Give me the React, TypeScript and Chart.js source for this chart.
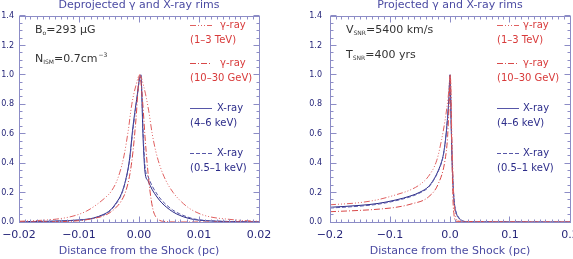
import React, { useEffect, useRef } from "react";
import { Chart, registerables } from "chart.js";
Chart.register(...registerables);

// ---------- data ----------
// Deprojected panel
const depX_xray = [-0.02, -0.015, -0.012, -0.01, -0.0085, -0.0076, -0.006, -0.0048, -0.0038, -0.0029, -0.0022, -0.0016, -0.001, -0.0004, 0.0003, 0.0007, 0.001, 0.0015, 0.0022, 0.003, 0.0038, 0.0046, 0.0056, 0.0068, 0.008, 0.0093, 0.011, 0.014, 0.02];
const depY_hard = [0.002, 0.005, 0.009, 0.014, 0.02, 0.027, 0.05, 0.08, 0.13, 0.195, 0.29, 0.42, 0.65, 0.83, 1.0, 0.55, 0.34, 0.28, 0.22, 0.17, 0.13, 0.1, 0.07, 0.045, 0.028, 0.016, 0.009, 0.004, 0.001];
const depY_soft = [0.002, 0.004, 0.008, 0.012, 0.018, 0.024, 0.046, 0.076, 0.124, 0.188, 0.285, 0.41, 0.63, 0.82, 1.0, 0.6, 0.38, 0.31, 0.245, 0.19, 0.147, 0.115, 0.082, 0.055, 0.035, 0.02, 0.011, 0.005, 0.001];
const depX_tev = [-0.02, -0.0165, -0.0137, -0.011, -0.0087, -0.007, -0.0055, -0.0046, -0.0035, -0.0025, -0.0018, -0.0012, -0.0005, 0.0001, 0.0008, 0.0016, 0.0022, 0.0028, 0.0035, 0.0045, 0.0057, 0.007, 0.0085, 0.0105, 0.0125, 0.0146, 0.017, 0.02];
const depY_tev = [0.005, 0.011, 0.02, 0.04, 0.075, 0.12, 0.17, 0.21, 0.3, 0.45, 0.62, 0.8, 0.93, 1.0, 0.92, 0.76, 0.6, 0.48, 0.38, 0.28, 0.2, 0.14, 0.09, 0.05, 0.03, 0.02, 0.011, 0.005];
const depX_gev = [-0.02, -0.012, -0.0093, -0.0075, -0.006, -0.0048, -0.0038, -0.003, -0.0022, -0.0015, -0.001, -0.0005, 0.0001, 0.0006, 0.001, 0.0014, 0.0018, 0.0023, 0.0028, 0.0035, 0.0045, 0.006, 0.02];
const depY_gev = [0.0, 0.004, 0.012, 0.025, 0.04, 0.065, 0.1, 0.14, 0.21, 0.33, 0.48, 0.7, 1.0, 0.82, 0.58, 0.38, 0.22, 0.09, 0.035, 0.01, 0.003, 0.0, 0.0];

// Projected panel
const proX_xray = [-0.2, -0.15, -0.12, -0.09, -0.065, -0.05, -0.036, -0.027, -0.0195, -0.014, -0.011, -0.0072, -0.0045, -0.002, 0.0, 0.002, 0.004, 0.0055, 0.0072, 0.01, 0.014, 0.021, 0.03, 0.2];
const proY_hard = [0.1, 0.113, 0.126, 0.15, 0.178, 0.203, 0.24, 0.29, 0.35, 0.41, 0.46, 0.57, 0.69, 0.83, 1.0, 0.65, 0.35, 0.22, 0.125, 0.065, 0.03, 0.006, 0.001, 0.0];
const proY_soft = [0.095, 0.108, 0.121, 0.145, 0.173, 0.198, 0.235, 0.285, 0.345, 0.405, 0.455, 0.565, 0.685, 0.82, 1.0, 0.67, 0.37, 0.235, 0.135, 0.07, 0.034, 0.008, 0.002, 0.0];
const proX_tev = [-0.2, -0.15, -0.12, -0.09, -0.065, -0.05, -0.036, -0.022, -0.014, -0.0083, -0.003, 0.0005, 0.003, 0.006, 0.009, 0.013, 0.02, 0.2];
const proY_tev = [0.117, 0.132, 0.152, 0.185, 0.22, 0.255, 0.31, 0.42, 0.56, 0.69, 0.85, 1.0, 0.6, 0.2, 0.05, 0.01, 0.0, 0.0];
const proX_gev = [-0.2, -0.15, -0.12, -0.09, -0.065, -0.036, -0.0195, -0.0083, -0.004, -0.0015, 0.0005, 0.003, 0.005, 0.007, 0.01, 0.2];
const proY_gev = [0.07, 0.079, 0.087, 0.1, 0.122, 0.17, 0.26, 0.42, 0.58, 0.8, 1.0, 0.5, 0.15, 0.04, 0.005, 0.0];

// ticks
const yTickValues = [0, 0.2, 0.4, 0.6, 0.8, 1.0, 1.2, 1.4];
const yTickLabels = ["0.0", "0.2", "0.4", "0.6", "0.8", "1.0", "1.2", "1.4"];
const depXTickValues = [-0.02, -0.01, 0, 0.01, 0.02];
const depXTickLabels = ["\u22120.02", "\u22120.01", "0.00", "0.01", "0.02"];
const proXTickValues = [-0.2, -0.1, 0, 0.1, 0.2];
const proXTickLabels = ["\u22120.2", "\u22120.1", "0.0", "0.1", "0.2"];

// ---------- styles ----------
const FONT = "'DejaVu Sans', sans-serif";
const AXIS = "#8c8cc6";
const TICKTXT = "#26267a";
const TITLE = "#4a4aa2";
const BLUE = "#262684";
const BLUE2 = "#5656a8";
const RED = "#d84848";
const RED2 = "#e06060";
const REDTXT = "#d83a3a";
const BLUETXT = "#2c2c8a";
const NOTE = "#333333";

const DASH_DDD = [6, 2, 1, 2, 1, 2, 1, 2];
const DASH_DD = [6, 2, 1, 2];
const DASH = [4, 2];

type Seg = { t: string; mode?: "sub" | "sup" };
type Note = { x: number; y: number; segs: Seg[] };

const legendRows = [
  { a: "\u03b3-ray", b: "(1\u20133 TeV)", color: RED2, txt: REDTXT, dash: DASH_DDD, y: 25 },
  { a: "\u03b3-ray", b: "(10\u201330 GeV)", color: RED, txt: REDTXT, dash: DASH_DD, y: 63 },
  { a: "X-ray", b: "(4\u20136 keV)", color: BLUE2, txt: BLUETXT, dash: [], y: 108 },
  { a: "X-ray", b: "(0.5\u20131 keV)", color: BLUE2, txt: BLUETXT, dash: DASH, y: 153 },
];

function pts(xs: number[], ys: number[]) {
  return xs.map((x, i) => ({ x, y: ys[i] }));
}

function decoPlugin(o: {
  title: string;
  notes: Note[];
  legLineX: number;
  legTextX: number[];
  xMin: number;
  xMax: number;
  xMinor: number;
  xPerMajor: number;
}) {
  return {
    id: "deco",
    afterDraw(chart: any) {
      const { ctx, chartArea: a, scales } = chart;
      ctx.save();
      ctx.lineWidth = 1;
      ctx.strokeStyle = AXIS;
      ctx.setLineDash([]);
      const L = Math.floor(a.left) + 0.5;
      const R = Math.floor(a.right) + 0.5;
      const T = Math.floor(a.top) + 0.5;
      const B = Math.floor(a.bottom) + 0.5;
      ctx.strokeRect(L, T, R - L, B - T);
      ctx.beginPath();
      const nx = Math.round((o.xMax - o.xMin) / o.xMinor);
      for (let i = 0; i <= nx; i++) {
        const v = o.xMin + i * o.xMinor;
        const p = Math.floor(scales.x.getPixelForValue(v)) + 0.5;
        const len = i % o.xPerMajor === 0 ? 6 : 3;
        ctx.moveTo(p, B);
        ctx.lineTo(p, B - len);
        ctx.moveTo(p, T);
        ctx.lineTo(p, T + len);
      }
      for (let i = 0; i <= 28; i++) {
        const v = i * 0.05;
        const p = Math.floor(scales.y.getPixelForValue(v)) + 0.5;
        const len = i % 4 === 0 ? 6 : 3;
        ctx.moveTo(L, p);
        ctx.lineTo(L + len, p);
        ctx.moveTo(R, p);
        ctx.lineTo(R - len, p);
      }
      ctx.stroke();

      // title
      ctx.fillStyle = TITLE;
      ctx.font = `11px ${FONT}`;
      ctx.textAlign = "center";
      ctx.textBaseline = "middle";
      ctx.fillText(o.title, (a.left + a.right) / 2, 5);

      // notes
      ctx.textAlign = "left";
      ctx.textBaseline = "alphabetic";
      ctx.fillStyle = NOTE;
      for (const n of o.notes) {
        let x = n.x;
        for (const s of n.segs) {
          if (s.mode === "sub") {
            ctx.font = `6px ${FONT}`;
            ctx.fillText(s.t, x, n.y + 2);
          } else if (s.mode === "sup") {
            ctx.font = `6px ${FONT}`;
            ctx.fillText(s.t, x + 1, n.y - 5);
            x += 1;
          } else {
            ctx.font = `11px ${FONT}`;
            ctx.fillText(s.t, x, n.y);
          }
          x += ctx.measureText(s.t).width;
        }
      }

      // legend
      ctx.font = `10px ${FONT}`;
      ctx.textBaseline = "middle";
      legendRows.forEach((r, i) => {
        ctx.strokeStyle = r.color;
        ctx.setLineDash(r.dash);
        ctx.beginPath();
        ctx.moveTo(o.legLineX, r.y + 0.5);
        ctx.lineTo(o.legLineX + 22, r.y + 0.5);
        ctx.stroke();
        ctx.fillStyle = r.txt;
        ctx.fillText(r.a, o.legTextX[i], r.y);
        ctx.fillText(r.b, o.legLineX, r.y + 15.5);
      });
      ctx.restore();
    },
  };
}

function ds(label: string, data: any[], color: string, dash: number[]) {
  return {
    label,
    data,
    borderColor: color,
    borderWidth: 1,
    borderDash: dash,
    pointRadius: 0,
    fill: false,
    cubicInterpolationMode: "monotone" as const,
  };
}

type PanelProps = {
  left: number;
  width: number;
  yWidth: number;
  yPad: number;
  rightPad: number;
  xMin: number;
  xMax: number;
  xTickValues: number[];
  xTickLabels: string[];
  datasets: any[];
  plugin: any;
};

function Panel(p: PanelProps) {
  const ref = useRef<HTMLCanvasElement | null>(null);
  useEffect(() => {
    if (!ref.current) return;
    const chart = new Chart(ref.current, {
      type: "line",
      data: { datasets: p.datasets },
      options: {
        animation: false,
        responsive: false,
        events: [],
        layout: { padding: { left: 0, right: p.rightPad, top: 16, bottom: 0 } },
        plugins: { legend: { display: false }, tooltip: { enabled: false }, title: { display: false } },
        scales: {
          x: {
            type: "linear",
            min: p.xMin,
            max: p.xMax,
            grid: { display: false, drawTicks: false },
            border: { display: false },
            afterBuildTicks: (s: any) => {
              s.ticks = p.xTickValues.map((v) => ({ value: v }));
            },
            afterFit: (s: any) => {
              s.height = 37;
              s.paddingLeft = 0;
              s.paddingRight = 0;
            },
            ticks: {
              autoSkip: false,
              maxRotation: 0,
              padding: 7,
              color: TICKTXT,
              font: { family: FONT, size: 11 },
              callback: (_v: any, i: number) => p.xTickLabels[i],
            },
            title: {
              display: true,
              text: "Distance from the Shock (pc)",
              color: TITLE,
              font: { family: FONT, size: 11 },
              padding: { top: 0, bottom: 1 },
            },
          },
          y: {
            type: "linear",
            min: 0,
            max: 1.4,
            grid: { display: false, drawTicks: false },
            border: { display: false },
            afterBuildTicks: (s: any) => {
              s.ticks = yTickValues.map((v) => ({ value: v }));
            },
            afterFit: (s: any) => {
              s.width = p.yWidth;
              s.paddingTop = 0;
              s.paddingBottom = 0;
            },
            ticks: {
              padding: p.yPad,
              color: TICKTXT,
              font: { family: FONT, size: 8 },
              callback: (_v: any, i: number) => yTickLabels[i],
            },
          },
        },
      },
      plugins: [p.plugin],
    } as any);
    return () => chart.destroy();
  }, []);
  return (
    <canvas
      ref={ref}
      width={p.width}
      height={259}
      style={{ position: "absolute", left: p.left, top: 0, width: p.width, height: 259, display: "block" }}
    />
  );
}

export default function App() {
  const depDatasets = [
    ds("γ-ray (1-3 TeV)", pts(depX_tev, depY_tev), RED2, DASH_DDD),
    ds("γ-ray (10-30 GeV)", pts(depX_gev, depY_gev), RED, DASH_DD),
    ds("X-ray (0.5-1 keV)", pts(depX_xray, depY_soft), BLUE2, DASH),
    ds("X-ray (4-6 keV)", pts(depX_xray, depY_hard), BLUE, []),
  ];
  const proDatasets = [
    ds("γ-ray (1-3 TeV)", pts(proX_tev, proY_tev), RED2, DASH_DDD),
    ds("γ-ray (10-30 GeV)", pts(proX_gev, proY_gev), RED, DASH_DD),
    ds("X-ray (0.5-1 keV)", pts(proX_xray, proY_soft), BLUE2, DASH),
    ds("X-ray (4-6 keV)", pts(proX_xray, proY_hard), BLUE, []),
  ];
  const depPlugin = decoPlugin({
    title: "Deprojected \u03b3 and X-ray rims",
    notes: [
      { x: 35, y: 33, segs: [{ t: "B" }, { t: "o", mode: "sub" }, { t: "=293 \u03bcG" }] },
      { x: 35, y: 62, segs: [{ t: "N" }, { t: "ISM", mode: "sub" }, { t: "=0.7cm" }, { t: "\u22123", mode: "sup" }] },
    ],
    legLineX: 190,
    legTextX: [220, 220, 217, 217],
    xMin: -0.02,
    xMax: 0.02,
    xMinor: 0.001,
    xPerMajor: 10,
  });
  const proPlugin = decoPlugin({
    title: "Projected \u03b3 and X-ray rims",
    notes: [
      { x: 56, y: 33, segs: [{ t: "V" }, { t: "SNR", mode: "sub" }, { t: "=5400 km/s" }] },
      { x: 56, y: 58, segs: [{ t: "T" }, { t: "SNR", mode: "sub" }, { t: "=400 yrs" }] },
    ],
    legLineX: 207,
    legTextX: [233, 233, 233, 233],
    xMin: -0.2,
    xMax: 0.2,
    xMinor: 0.01,
    xPerMajor: 10,
  });
  return (
    <div style={{ position: "absolute", left: 0, top: 0, width: 573, height: 259, background: "#fff" }}>
      <Panel
        left={0}
        width={290}
        yWidth={19}
        yPad={5}
        rightPad={31}
        xMin={-0.02}
        xMax={0.02}
        xTickValues={depXTickValues}
        xTickLabels={depXTickLabels}
        datasets={depDatasets}
        plugin={depPlugin}
      />
      <Panel
        left={290}
        width={283}
        yWidth={40}
        yPad={8}
        rightPad={3}
        xMin={-0.2}
        xMax={0.2}
        xTickValues={proXTickValues}
        xTickLabels={proXTickLabels}
        datasets={proDatasets}
        plugin={proPlugin}
      />
    </div>
  );
}
